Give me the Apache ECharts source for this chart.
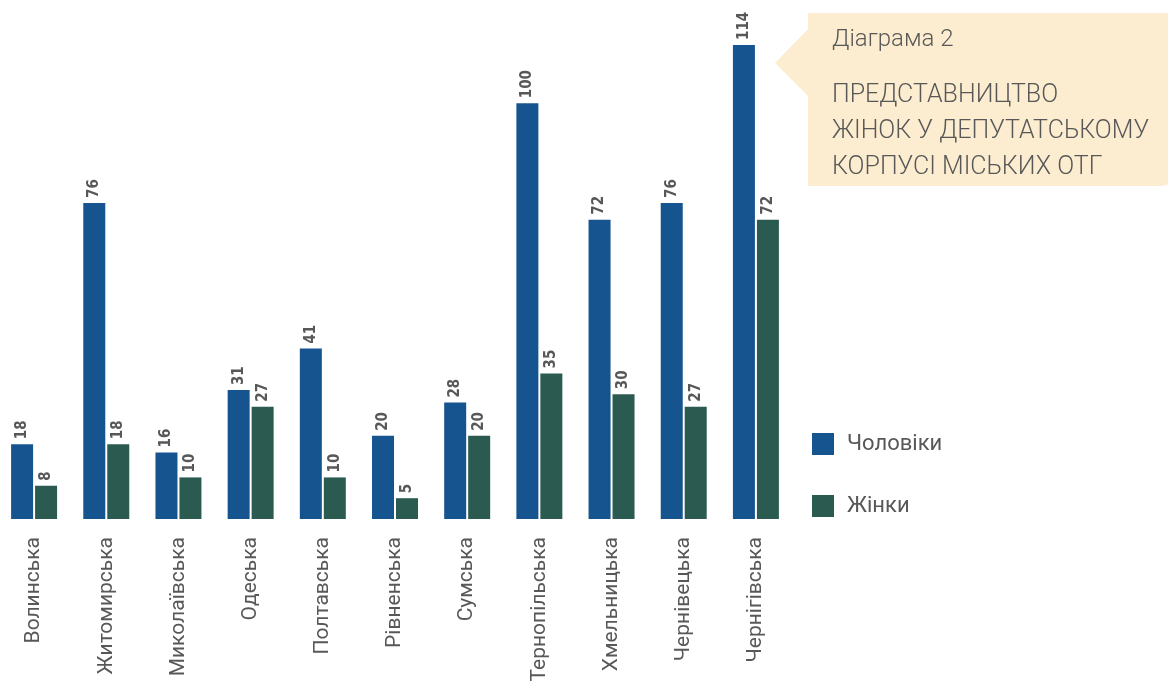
<!DOCTYPE html>
<html>
<head>
<meta charset="utf-8">
<script src="https://cdn.jsdelivr.net/npm/echarts@6/dist/echarts.min.js"></script>
<style>
  html, body { margin: 0; padding: 0; background: #fff; }
  #chart { width: 1168px; height: 683px; }
</style>
</head>
<body>
<div id="chart"></div>
<script>
const regions = ['Волинська', 'Житомирська', 'Миколаївська', 'Одеська', 'Полтавська',
  'Рівненська', 'Сумська', 'Тернопільська', 'Хмельницька', 'Чернівецька', 'Чернігівська'];
const men = [18, 76, 16, 31, 41, 20, 28, 100, 72, 76, 114];
const women = [8, 18, 10, 27, 10, 5, 20, 35, 30, 27, 72];

const font = '"Roboto", sans-serif';
const grey = '#585858';

const barLabel = {
  show: true,
  position: 'top',
  rotate: 90,
  align: 'left',
  verticalAlign: 'middle',
  distance: 5,
  color: grey,
  fontFamily: '"DejaVu Sans Condensed", "DejaVu Sans", sans-serif',
  fontWeight: 'bold',
  fontSize: 15
};

const chart = echarts.init(document.getElementById('chart'));

chart.setOption({
  animation: false,
  grid: { left: -2, top: 45, width: 794, height: 474, outerBoundsMode: 'none' },
  legend: {
    orient: 'vertical',
    left: 807,
    top: 428,
    itemWidth: 22,
    itemHeight: 22,
    itemGap: 40,
    icon: 'rect',
    textStyle: { color: grey, fontFamily: font, fontSize: 22, padding: [0, 0, 0, 8] },
    data: ['Чоловіки', 'Жінки']
  },
  xAxis: {
    type: 'category',
    data: regions,
    axisLine: { show: false },
    axisTick: { show: false },
    axisLabel: {
      rotate: 90,
      margin: 18,
      color: grey,
      fontFamily: font,
      fontSize: 21
    }
  },
  yAxis: {
    type: 'value',
    min: 0,
    max: 114,
    show: false,
    splitLine: { show: false }
  },
  series: [
    {
      name: 'Чоловіки',
      type: 'bar',
      data: men,
      itemStyle: { color: '#15548F' },
      barWidth: 22,
      barGap: '9%',
      label: barLabel
    },
    {
      name: 'Жінки',
      type: 'bar',
      data: women,
      itemStyle: { color: '#2B5A51' },
      barWidth: 22,
      label: barLabel
    }
  ],
  graphic: [
    {
      type: 'polygon',
      shape: { points: [[809, 28], [775, 63], [809, 97]] },
      style: { fill: '#FDEDD0' },
      z: 0
    },
    {
      type: 'rect',
      shape: { x: 808, y: 13, width: 370, height: 173, r: [0, 0, 18, 0] },
      style: { fill: '#FDEDD0' },
      z: 0
    },
    {
      type: 'text',
      left: 832,
      top: 28,
      style: {
        text: 'Діаграма 2',
        fill: grey,
        font: '300 24px ' + font
      }
    },
    {
      type: 'text',
      left: 832,
      top: 78,
      style: {
        text: 'ПРЕДСТАВНИЦТВО\nЖІНОК У ДЕПУТАТСЬКОМУ\nКОРПУСІ МІСЬКИХ ОТГ',
        fill: grey,
        font: '300 25px ' + font,
        lineHeight: 36
      }
    }
  ]
});
</script>
</body>
</html>
